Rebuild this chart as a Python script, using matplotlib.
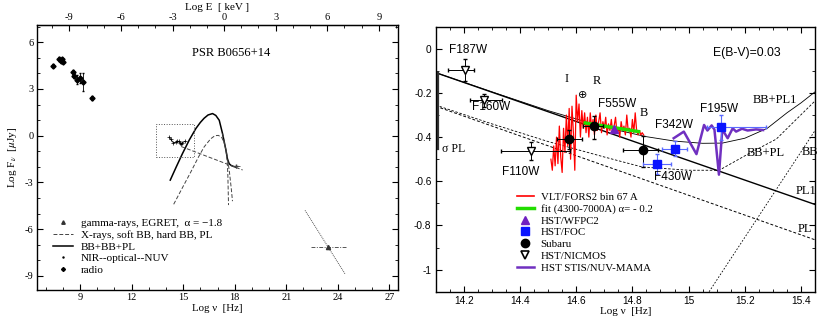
import numpy as np
import matplotlib.pyplot as plt
from matplotlib.lines import Line2D
from matplotlib.ticker import MultipleLocator, FuncFormatter

plt.rcParams['font.family'] = ['Liberation Serif', 'DejaVu Serif']
plt.rcParams['mathtext.fontset'] = 'stix'
plt.rcParams['axes.unicode_minus'] = False

# ---------------- left panel : radio to gamma ----------------
radio_nu = [7.43, 7.8, 7.9, 7.97, 8.02, 8.6, 8.67, 8.85, 9.0, 9.2, 9.72]
radio_F = [4.5, 4.95, 4.8, 4.9, 4.75, 4.08, 3.85, 3.6, 3.7, 3.45, 2.42]
radio_err = [0.1, 0.1, 0.1, 0.1, 0.1, 0.15, 0.15, 0.3, 0.35, 0.6, 0.12]

# BB+BB+PL total model
tot_nu = [14.25, 14.6, 14.96, 15.35, 15.74, 16.0, 16.22, 16.45, 16.71, 16.9, 17.1,
          17.29, 17.4, 17.49, 17.58, 17.68, 17.78, 17.9, 18.07]
tot_F = [-2.85, -2.0, -1.15, -0.29, 0.46, 0.85, 1.12, 1.33, 1.42, 1.3, 0.99,
         0.14, -0.45, -0.93, -1.5, -1.8, -1.9, -1.96, -2.02]
# soft BB (visible only where it leaves the total)
sbb_nu = [17.29, 17.4, 17.5, 17.56, 17.6, 17.64]
sbb_F = [0.14, -0.45, -1.0, -1.6, -2.5, -4.45]
# hard BB
hbb_nu = [14.45, 15.0, 15.45, 15.9, 16.22, 16.6, 16.85, 17.05, 17.25, 17.4, 17.5,
          17.6, 17.7, 17.8, 17.87]
hbb_F = [-4.4, -3.25, -2.32, -1.35, -0.72, -0.2, 0.0, 0.02, -0.12, -0.5, -0.95,
         -1.6, -2.4, -3.4, -4.2]
# X-ray power law
xpl_nu = [14.9, 18.46]
xpl_F = [-0.7, -2.2]
xray_pt = (18.07, -1.95)

# EGRET
gam_nu, gam_F = 23.41, -7.12
gam_lo, gam_hi = 22.44, 24.48
gam_line_nu = [22.09, 24.43]
gam_line_F = [-4.79, -8.89]

# ---------------- right panel : NIR - optical - NUV ----------------
nic_nu = [14.205, 14.273, 14.439]
nic_F = [-0.097, -0.233, -0.462]
nic_xlo = [0.06, 0.052, 0.105]
nic_xhi = [0.03, 0.064, 0.14]
nic_yerr = [0.05, 0.03, 0.04]

sub_nu = [14.576, 14.664, 14.836]
sub_F = [-0.409, -0.349, -0.459]
sub_xlo = [0.045, 0.04, 0.068]
sub_xhi = [0.045, 0.032, 0.055]
sub_ylo = [0.045, 0.06, 0.075]
sub_yhi = [0.04, 0.045, 0.065]

foc_nu = [14.953, 14.887, 15.115]
foc_F = [-0.452, -0.522, -0.356]
foc_xlo = [0.048, 0.048, 0.05]
foc_xhi = [0.042, 0.051, 0.16]
foc_yerr = [0.035, 0.045, 0.055]

wfpc_nu, wfpc_F = 14.736, -0.365

fit_nu = [14.632, 14.822]
fit_F = [-0.336, -0.375]

stis_nu = [14.947, 14.983, 15.028, 15.055, 15.067, 15.082, 15.092, 15.108, 15.12,
           15.139, 15.157, 15.169, 15.19, 15.21, 15.24, 15.265]
stis_F = [-0.405, -0.375, -0.477, -0.345, -0.37, -0.347, -0.366, -0.57, -0.365,
          -0.405, -0.36, -0.375, -0.362, -0.37, -0.365, -0.368]

fors_F = [-0.50, -0.55, -0.44, -0.53, -0.40, -0.52, -0.35, -0.49, -0.56, -0.36,
          -0.47, -0.30, -0.44, -0.27, -0.50, -0.26, -0.38, -0.55, -0.21, -0.33,
          -0.25, -0.40, -0.28, -0.36, -0.29, -0.38, -0.31, -0.40, -0.29, -0.36,
          -0.32, -0.39, -0.30, -0.37, -0.33, -0.29, -0.38, -0.33, -0.36, -0.31,
          -0.39, -0.34, -0.37, -0.32, -0.38, -0.35, -0.31, -0.38, -0.36, -0.40,
          -0.33, -0.37, -0.35, -0.39, -0.30, -0.37, -0.36, -0.40, -0.32, -0.38,
          -0.29, -0.37, -0.39, -0.37, -0.39, -0.38, -0.39]
fors_nu = np.linspace(14.51, 14.84, len(fors_F))  # spectral bins

pl1_nu, pl1_F = [14.1, 15.45], [-0.108, -0.705]
pl_nu, pl_F = [14.1, 15.45], [-0.26, -0.865]
bb_nu, bb_F = [15.073, 15.45], [-1.1, -0.37]
bbpl1_nu = [14.1, 14.3, 14.5, 14.7, 14.85, 14.95, 15.05, 15.12, 15.2, 15.28, 15.35, 15.4, 15.45]
bbpl1_F = [-0.108, -0.195, -0.28, -0.355, -0.398, -0.418, -0.428, -0.427, -0.405, -0.36, -0.29, -0.245, -0.195]
bbpl_nu = [14.1, 14.3, 14.5, 14.7, 14.834, 15.0, 15.109, 15.211, 15.312, 15.45]
bbpl_F = [-0.255, -0.34, -0.42, -0.49, -0.535, -0.55, -0.55, -0.477, -0.409, -0.236]

fig = plt.figure(figsize=(8.17, 3.18), dpi=100)
axL = fig.add_axes([0.0453, 0.088, 0.4419, 0.8333])
axR = fig.add_axes([0.5333, 0.0827, 0.4643, 0.8333])

# ---- left ----
axL.errorbar(radio_nu, radio_F, yerr=radio_err, fmt='D', ms=2.6, color='k', elinewidth=0.6, capsize=1)
axL.plot(tot_nu, tot_F, '-', color='k', lw=1.1)
axL.plot(sbb_nu, sbb_F, '--', color='#444444', lw=0.7, dashes=(4, 2))
axL.plot(hbb_nu, hbb_F, '--', color='#444444', lw=0.7, dashes=(4, 2))
axL.plot(xpl_nu, xpl_F, '--', color='#444444', lw=0.7, dashes=(4, 2))
axL.errorbar([xray_pt[0]], [xray_pt[1]], xerr=0.25, yerr=0.1, fmt='+', ms=3, color='#444444', elinewidth=0.6)
# NIR-optical-NUV points
opt_nu = nic_nu + sub_nu + [wfpc_nu] + foc_nu
opt_F = nic_F + sub_F + [wfpc_F] + foc_F
order = np.argsort(opt_nu)
axL.plot(np.array(opt_nu)[order], np.array(opt_F)[order], '-', color='k', lw=0.6, marker='+', ms=2.5, mew=0.5)
axL.plot([13.41, 15.64, 15.64, 13.41, 13.41], [-1.36, -1.36, 0.73, 0.73, -1.36], ':', color='#555555', lw=0.7)
# EGRET
axL.plot(gam_line_nu, gam_line_F, linestyle=(0, (1, 1)), color='#555555', lw=0.7)
axL.plot([gam_lo, gam_hi], [gam_F, gam_F], linestyle=(0, (4, 1.5, 1, 1.5)), color='#555555', lw=0.7)
axL.plot([gam_nu], [gam_F], '^', ms=3, color='#333333')

axL.text(17.8, 5.3, 'PSR B0656+14', ha='center', va='center', fontsize=9)
axL.set_xlim(6.5, 27.5)
axL.set_ylim(-9.9, 7.1)
axL.xaxis.set_major_locator(MultipleLocator(3))
axL.xaxis.set_minor_locator(MultipleLocator(1))
axL.yaxis.set_major_locator(MultipleLocator(3))
axL.yaxis.set_minor_locator(MultipleLocator(1))
axL.tick_params(which='both', direction='in', right=True, top=False, labelsize=7.5, pad=2.5)
axL.tick_params(which='major', length=4)
axL.tick_params(which='minor', length=2)
axL.set_xlabel('Log ν  [Hz]', fontsize=7.8, labelpad=1)
axL.set_ylabel(r'Log F$_\nu$  [$\mu$Jy]', fontsize=8, labelpad=4)

secax = axL.secondary_xaxis('top', functions=(lambda x: x - 17.383, lambda e: e + 17.383))
secax.xaxis.set_major_locator(MultipleLocator(3))
secax.xaxis.set_minor_locator(MultipleLocator(1))
secax.tick_params(which='both', direction='in', labelsize=7.5, pad=2)
secax.tick_params(which='major', length=4)
secax.tick_params(which='minor', length=2)
secax.set_xlabel('Log E  [ keV ]', fontsize=8, labelpad=2)

hL = [Line2D([], [], ls='none', marker='^', ms=2.5, color='#333333'),
      Line2D([], [], ls='--', color='#444444', lw=0.7, dashes=(4, 2)),
      Line2D([], [], ls='-', color='k', lw=1.1),
      Line2D([], [], ls='none', marker='.', ms=1.5, color='k'),
      Line2D([], [], ls='none', marker='D', ms=2, color='k')]
labL = ['gamma-rays, EGRET,  α = \u22121.8', 'X-rays, soft BB, hard BB, PL', 'BB+BB+PL',
        'NIR--optical--NUV', 'radio']
axL.legend(hL, labL, loc='upper left', bbox_to_anchor=(0.044, 0.27), frameon=False,
           fontsize=8, handlelength=1.8, handletextpad=0.7, labelspacing=0.17, borderpad=0,
           borderaxespad=0)

# ---- right ----
axR.plot(pl1_nu, pl1_F, '-', color='k', lw=1.0)
axR.plot(bbpl1_nu, bbpl1_F, '-', color='k', lw=0.6)
axR.plot(pl_nu, pl_F, '--', color='k', lw=0.7, dashes=(3, 2))
axR.plot(bbpl_nu, bbpl_F, '--', color='k', lw=0.6, dashes=(3, 2))
axR.plot(bb_nu, bb_F, '--', color='k', lw=0.6, dashes=(2, 2))
axR.plot([14.107, 14.107], [-0.108, -0.455], '-', color='#333333', lw=1.6)
axR.text(14.122, -0.452, 'σ PL', fontsize=8.5, ha='left', va='center')

axR.plot(fors_nu, fors_F, '-', color='red', lw=0.9, label='VLT/FORS2 bin 67 A')
axR.plot(fit_nu, fit_F, '-', color='#22dd00', lw=2.5, label='fit (4300-7000A) α= - 0.2')
axR.plot(stis_nu, stis_F, '-', color='#7030c0', lw=1.8)
axR.errorbar(nic_nu, nic_F, xerr=[nic_xlo, nic_xhi], yerr=nic_yerr, fmt='v', ms=5.5,
             mfc='white', mec='k', mew=1.0, color='k', elinewidth=0.7, capsize=1.5)
axR.errorbar(sub_nu, sub_F, xerr=[sub_xlo, sub_xhi], yerr=[sub_ylo, sub_yhi], fmt='o', ms=6,
             color='k', elinewidth=0.7, capsize=1.5)
axR.errorbar(foc_nu, foc_F, xerr=[foc_xlo, foc_xhi], yerr=foc_yerr, fmt='s', ms=6,
             color='#0a14ff', ecolor='#5a6aff', elinewidth=0.8, capsize=1.5)
axR.plot([wfpc_nu], [wfpc_F], '^', ms=6, color='#7020c0')

sans = ['Liberation Sans', 'DejaVu Sans']
for s, x, y in [('F187W', 14.216, -0.007), ('F160W', 14.297, -0.263), ('F110W', 14.403, -0.56),
                ('F555W', 14.744, -0.251), ('F342W', 14.947, -0.344), ('F195W', 15.109, -0.273),
                ('F430W', 14.945, -0.582)]:
    axR.text(x, y, s, fontsize=8.5, ha='center', va='center', family=sans)
for s, x, y in [('I', 14.567, -0.138), ('R', 14.672, -0.146), ('B', 14.84, -0.293),
                ('BB+PL1', 15.306, -0.231), ('BB+PL', 15.275, -0.474), ('BB', 15.432, -0.469),
                ('PL1', 15.419, -0.645), ('PL', 15.414, -0.815)]:
    axR.text(x, y, s, fontsize=9, ha='center', va='center')
axR.text(14.624, -0.21, '\u2295', fontsize=8, ha='center', va='center', family=['DejaVu Sans'])
axR.text(15.207, -0.018, 'E(B-V)=0.03', fontsize=8.8, ha='center', va='center', family=sans)

axR.set_xlim(14.1, 15.45)
axR.set_ylim(-1.1, 0.1)
axR.xaxis.set_major_locator(MultipleLocator(0.2))
axR.xaxis.set_minor_locator(MultipleLocator(0.05))
axR.yaxis.set_major_locator(MultipleLocator(0.2))
axR.yaxis.set_minor_locator(MultipleLocator(0.1))
fmt = FuncFormatter(lambda v, p: f'{v:.1f}'.rstrip('0').rstrip('.') if abs(v) > 1e-9 else '0')
axR.xaxis.set_major_formatter(fmt)
axR.yaxis.set_major_formatter(fmt)
axR.tick_params(which='both', direction='in', top=True, right=True, labelsize=7.3, pad=3)
axR.tick_params(which='major', length=4)
axR.tick_params(which='minor', length=2)
axR.set_xlabel('Log ν  [Hz]', fontsize=8, labelpad=0.5)

hR = [Line2D([], [], color='red', lw=1.2),
      Line2D([], [], color='#22dd00', lw=2.5),
      Line2D([], [], ls='none', marker='^', ms=6, color='#7020c0'),
      Line2D([], [], ls='none', marker='s', ms=6, color='#0a14ff'),
      Line2D([], [], ls='none', marker='o', ms=6, color='k'),
      Line2D([], [], ls='none', marker='v', ms=6, mfc='white', mec='k', mew=1.2),
      Line2D([], [], color='#7030c0', lw=1.8)]
labR = ['VLT/FORS2 bin 67 A', 'fit (4300-7000A) α= - 0.2', 'HST/WFPC2', 'HST/FOC', 'Subaru',
        'HST/NICMOS', 'HST STIS/NUV-MAMA']
axR.legend(hR, labR, loc='upper left', bbox_to_anchor=(0.2135, 0.376), frameon=False,
           fontsize=7.8, handlelength=1.6, handletextpad=0.6, labelspacing=0.2, borderpad=0,
           borderaxespad=0)

for ax in (axL, axR):
    for sp in ax.spines.values():
        sp.set_linewidth(1.0)

for lab in axR.get_xticklabels() + axR.get_yticklabels():
    lab.set_family(sans)

fig.savefig('out.png', dpi=100)
